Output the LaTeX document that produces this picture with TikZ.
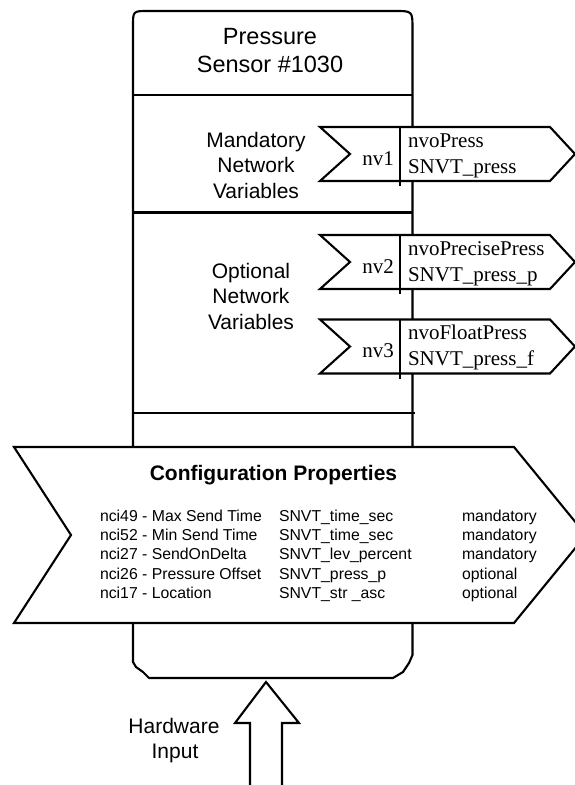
\documentclass[tikz,border=0pt]{standalone}
\usepackage{fontspec}
\setmainfont{Liberation Serif}
\setsansfont{Liberation Sans}
\begin{document}
\begin{tikzpicture}[x=1pt, y=-1pt, line width=2.1pt, line join=miter,
  sanslbl/.style={font=\sffamily\fontsize{21}{25}\selectfont, anchor=base, inner sep=0pt},
  headlbl/.style={font=\sffamily\fontsize{23.5}{28}\selectfont, anchor=base, inner sep=0pt},
  nvlbl/.style={font=\rmfamily\fontsize{21}{26}\selectfont, anchor=base, inner sep=0pt},
  nvtext/.style={font=\rmfamily\fontsize{21}{26}\selectfont, anchor=base west, inner sep=0pt},
  cptitle/.style={font=\sffamily\bfseries\fontsize{21}{25}\selectfont, anchor=base, inner sep=0pt},
  cpcell/.style={font=\sffamily\fontsize{15.8}{19}\selectfont, anchor=base west, inner sep=0pt},
  shapebox/.style={draw, fill=white}]
\useasboundingbox (0,0) rectangle (574,785);

% device outline
\draw (133,662) -- (133,26) .. controls (133,11) .. (148,11)
  -- (395,11) .. controls (412.5,11) .. (412.5,29)
  -- (412.5,655) -- (409,663) -- (403,672) -- (393,678)
  -- (149,678) -- (143,672) -- (136,667) -- cycle;

% section dividers
\draw (133,95) -- (412.5,95);
\draw (133,212.5) -- (412.5,212.5);
\draw (133,413) -- (415,413);

% title
\node[headlbl] (title1) at (270,44) {Pressure};
\node[headlbl] (title2) at (270,72) {Sensor \#1030};

% section labels
\node[sanslbl] (mand1) at (256,147) {Mandatory};
\node[sanslbl] (mand2) at (256,172) {Network};
\node[sanslbl] (mand3) at (256,198) {Variables};
\node[sanslbl] (opt1) at (251,278) {Optional};
\node[sanslbl] (opt2) at (251,303.5) {Network};
\node[sanslbl] (opt3) at (251,329) {Variables};

% network variable outputs
\foreach \c/\k/\na/\ty in {154/nv1/nvoPress/SNVT\_press,
                           262/nv2/nvoPrecisePress/SNVT\_press\_p,
                           346.5/nv3/nvoFloatPress/SNVT\_press\_f}{
  \draw[shapebox] (320,\c-27) -- (550,\c-27) -- (575,\c) -- (550,\c+27)
    -- (320,\c+27) -- (350,\c) -- cycle;
  \draw (400,\c-27) -- (400,\c+32);
  \node[nvlbl] (\k) at (378,\c+11) {\k};
  \node[nvtext] (\k name) at (407,\c-7) {\na};
  \node[nvtext] (\k type) at (407,\c+19) {\ty};
}

% configuration properties
\draw[shapebox] (14,447) -- (514,447) -- (586,535) -- (514,623)
  -- (14,623) -- (71,535) -- cycle;
\node[cptitle] (cp) at (273.5,480.7) {Configuration Properties};
\foreach \y/\a/\b/\m [count=\i] in {
   521/nci49 - Max Send Time/SNVT\_time\_sec/mandatory,
   540.3/nci52 - Min Send Time/SNVT\_time\_sec/mandatory,
   559.7/nci27 - SendOnDelta/SNVT\_lev\_percent/mandatory,
   579/nci26 - Pressure Offset/SNVT\_press\_p/optional,
   598.3/nci17 - Location/SNVT\_str \_asc/optional}{
  \node[cpcell] (cpname\i) at (99,\y) {\a};
  \node[cpcell] (cptype\i) at (278,\y) {\b};
  \node[cpcell] (cpuse\i) at (461,\y) {\m};
}

% hardware input arrow
\draw (282,790) -- (282,723) -- (299,723) -- (266,682) -- (235,723)
  -- (250,723) -- (250,790);
\node[sanslbl] (hw1) at (174,733) {Hardware};
\node[sanslbl] (hw2) at (175,758) {Input};
\end{tikzpicture}
\end{document}
